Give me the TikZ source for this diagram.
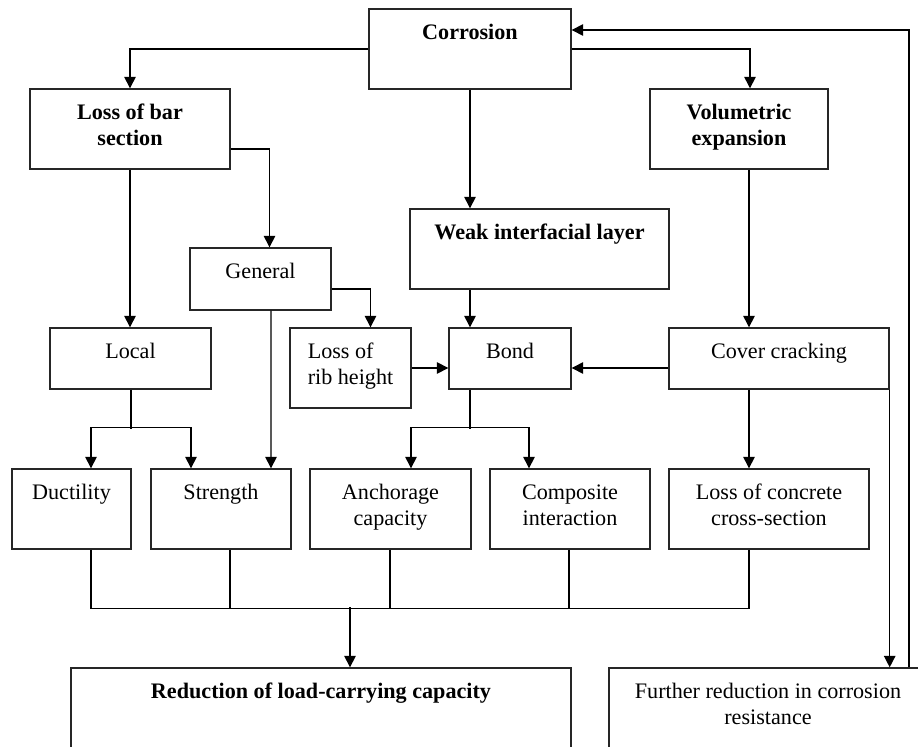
\documentclass[tikz,border=0pt]{standalone}
\usepackage{fontspec}
\setmainfont{Liberation Serif}
\usetikzlibrary{calc,arrows.meta}

\begin{document}
\begin{tikzpicture}[x=0.02cm,y=-0.02cm,line width=0.8pt,>={Triangle[length=6.5pt,width=6.5pt]},
  box/.style={draw=black!85,inner sep=0pt},
  txt/.style={anchor=base,yshift=-0.62cm,align=center,inner sep=0pt,font=\fontsize{12.6}{15}\selectfont},
  btxt/.style={txt,font=\fontsize{12.6}{15}\selectfont\bfseries},
  two/.style={yshift=-15pt}]
  \useasboundingbox (0,0) rectangle (918,746);
  \clip (0,0) rectangle (918,746);

  % top levels
  \node[box,minimum width=4.04cm,minimum height=1.6cm,label={[btxt]north:Corrosion}] (corr) at (470,49) {};
  \node[box,minimum width=4cm,minimum height=1.6cm,label={[btxt,two]north:Loss of bar\\section}] (lbs) at (130,129) {};
  \node[box,minimum width=3.56cm,minimum height=1.6cm,label={[btxt,two]north:Volumetric\\expansion}] (vol) at (739,129) {};
  \node[box,minimum width=5.18cm,minimum height=1.6cm,label={[btxt]north:Weak interfacial layer}] (weak) at (539.5,249) {};
  \node[box,minimum width=2.82cm,minimum height=1.24cm,label={[txt]north:General}] (gen) at (260.5,279) {};

  % middle row
  \node[box,minimum width=3.22cm,minimum height=1.22cm,label={[txt]north:Local}] (local) at (130.5,358.5) {};
  \node[box,minimum width=2.42cm,minimum height=1.6cm,label={[txt,two,align=left]north:Loss of\\rib height}] (rib) at (350.5,368) {};
  \node[box,minimum width=2.44cm,minimum height=1.22cm,label={[txt]north:Bond}] (bond) at (510,358.5) {};
  \node[box,minimum width=4.4cm,minimum height=1.22cm,label={[txt]north:Cover cracking}] (cover) at (779,358.5) {};

  % effects
  \node[box,minimum width=2.38cm,minimum height=1.6cm,label={[txt]north:Ductility}] (duct) at (71.5,509) {};
  \node[box,minimum width=2.8cm,minimum height=1.6cm,label={[txt]north:Strength}] (str) at (221,509) {};
  \node[box,minimum width=3.22cm,minimum height=1.6cm,label={[txt,two]north:Anchorage\\capacity}] (anch) at (390.5,509) {};
  \node[box,minimum width=3.2cm,minimum height=1.6cm,label={[txt,two]north:Composite\\interaction}] (comp) at (570,509) {};
  \node[box,minimum width=4cm,minimum height=1.6cm,label={[txt,two]north:Loss of concrete\\cross-section}] (lcc) at (769,509) {};

  % results
  \node[box,minimum width=10cm,minimum height=2cm,label={[btxt]north:Reduction of load-carrying capacity}] (red) at (321,718) {};
  \node[box,minimum width=6.36cm,minimum height=2cm,label={[txt,two]north:Further reduction in corrosion\\resistance}] (fur) at (768,718) {};

  % connectors
  \draw[->] (corr.west) -| (lbs.north);
  \draw[->] (corr.east) -| ($(vol.north)+(11,0)$);
  \draw[->] (corr.south) -- (corr.south |- weak.north);
  \draw[->] ($(lbs.east)+(0,20)$) -| ($(gen.north)+(9,0)$);
  \draw[->] (lbs.south) -- (lbs.south |- local.north);
  \draw[->] ($(gen.east)+(0,10)$) -| ($(rib.north)+(20,0)$);
  \draw[->] ($(gen.south)+(10.5,0)$) -- ($(str.north)+(50,0)$);
  \draw[->] (rib.east) -- (rib.east -| bond.west);
  \draw[->] ($(weak.south)+(-69.5,0)$) -- ($(bond.north)+(-40,0)$);
  \draw[->] (rib.east -| cover.west) -- (rib.east -| bond.east);
  \draw[->] ($(vol.south)+(10,0)$) -- ($(cover.north)+(-30,0)$);

  \draw ($(local.south)+(0.5,0)$) -- ++(0,39);
  \draw[<->] ($(duct.north)+(19.5,0)$) -- ++(0,-41) -- ($(str.north)+(-30,-41)$) -- ++(0,41);
  \draw ($(bond.south)+(-40,0)$) -- ++(0,39);
  \draw[<->] ($(anch.north)+(20.5,0)$) -- ++(0,-41) -- ($(comp.north)+(-41,-41)$) -- ++(0,41);
  \draw[->] ($(cover.south)+(-30,0)$) -- ($(lcc.north)+(-20,0)$);

  % to the load-carrying capacity
  \foreach \n/\dx in {duct/19.5,str/9,anch/-0.5,comp/-1,lcc/-20}
    \draw ($(\n.south)+(\dx,0)$) -- ++(0,59);
  \draw ($(duct.south)+(19.5,59)$) -- ($(lcc.south)+(-20,59)$);
  \draw[->] ($(red.north)+(29,-60)$) -- ($(red.north)+(29,0)$);

  % feedback loop
  \draw[->] (cover.south east) -- (cover.south east |- fur.north);
  \draw[->] ($(fur.north)+(141,0)$) |- ($(corr.east)+(0,-19)$);
\end{tikzpicture}
\end{document}
